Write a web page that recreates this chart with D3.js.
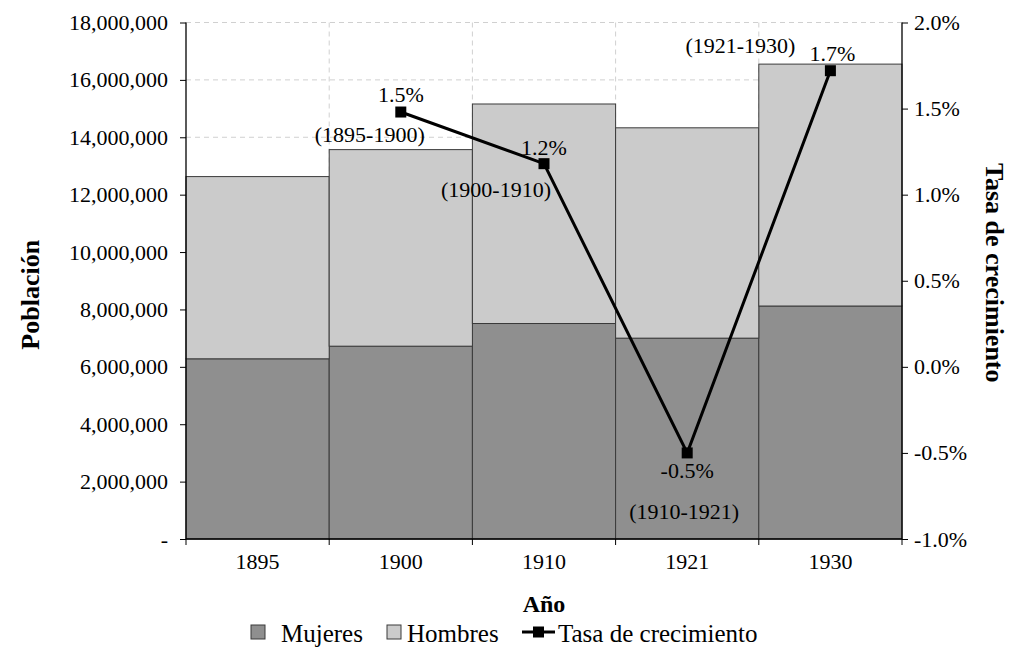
<!DOCTYPE html>
<html>
<head>
<meta charset="utf-8">
<script src="https://cdn.jsdelivr.net/npm/d3@7"></script>
<style>
  html, body { margin: 0; padding: 0; background: #fff; }
</style>
</head>
<body>
<svg id="chart" width="1011" height="649"></svg>
<script>
// Census years
const years = ["1895", "1900", "1910", "1921", "1930"];
// Population by sex
const mujeres = [6280000, 6720000, 7510000, 7000000, 8120000];
const hombres = [6350000, 6850000, 7650000, 7330000, 8430000];
// Intercensal growth rate (plotted at the end year of each period)
const tasaYears = ["1900", "1910", "1921", "1930"];
const tasa = [0.0148, 0.0118, -0.0050, 0.0172];
const periodos = ["(1895-1900)", "(1900-1910)", "(1910-1921)", "(1921-1930)"];
// Axis ticks
const leftTicks = [0, 2e6, 4e6, 6e6, 8e6, 10e6, 12e6, 14e6, 16e6, 18e6];
const rightTicks = [-0.01, -0.005, 0, 0.005, 0.01, 0.015, 0.02];

// Label placement around each growth-rate marker
const periodOffset = [[-31, 30], [-48, 33], [-3, 66], [-90, -18]];
const valueOffset = [[0, -10], [0, -9], [0, 25], [2, -10]];

const SERIF = "Liberation Serif";
const svg = d3.select("#chart");
const L = 186, R = 902, T = 22.5, B = 539;

const x = d3.scaleBand().domain(years).range([L, R]).padding(0);
const y = d3.scaleLinear().domain([0, 18e6]).range([B, T]);
const y2 = d3.scaleLinear().domain([-0.01, 0.02]).range([B, T]);

const pct = d => d3.format(".1f")(d * 100).replace("−", "-") + "%";

const grid = svg.append("g");
// Horizontal dashed gridlines
grid.selectAll("line.h").data(leftTicks.filter(d => d > 0)).join("line")
  .attr("x1", L).attr("x2", R)
  .attr("y1", d => y(d)).attr("y2", d => y(d))
  .attr("stroke", "#d0d0d0").attr("stroke-dasharray", "5,4").attr("stroke-width", 1);
// Vertical dashed gridlines at category boundaries
grid.selectAll("line.v").data(years.slice(1)).join("line")
  .attr("x1", d => x(d)).attr("x2", d => x(d))
  .attr("y1", T).attr("y2", B)
  .attr("stroke", "#d0d0d0").attr("stroke-dasharray", "5,4").attr("stroke-width", 1);

// Stacked bars
const stackData = years.map((yr, i) => ({ year: yr, Mujeres: mujeres[i], Hombres: hombres[i] }));
const series = d3.stack().keys(["Mujeres", "Hombres"])(stackData);
const fills = { Mujeres: "#8f8f8f", Hombres: "#cbcbcb" };

svg.append("g").selectAll("g").data(series).join("g")
  .attr("fill", d => fills[d.key])
  .selectAll("rect").data(d => d).join("rect")
  .attr("x", d => x(d.data.year))
  .attr("width", x.bandwidth())
  .attr("y", d => y(d[1]))
  .attr("height", d => y(d[0]) - y(d[1]))
  .attr("stroke", "#3a3a3a").attr("stroke-width", 1);

// Left axis
const axL = svg.append("g").attr("transform", `translate(${L},0)`)
  .call(d3.axisLeft(y).tickValues(leftTicks).tickSize(6).tickPadding(12)
    .tickFormat(d => d === 0 ? "-" : d3.format(",")(d)));
// Right axis
const axR = svg.append("g").attr("transform", `translate(${R},0)`)
  .call(d3.axisRight(y2).tickValues(rightTicks).tickSize(6).tickPadding(6)
    .tickFormat(pct));
// Bottom axis: ticks at category boundaries, labels at centers
const axB = svg.append("g").attr("transform", `translate(0,${B})`)
  .call(d3.axisBottom(x).tickSize(0).tickPadding(14));
axB.selectAll(".tick line").remove();
axB.append("g").selectAll("line").data(years.slice(1).concat(["end"])).join("line")
  .attr("x1", d => d === "end" ? R : x(d)).attr("x2", d => d === "end" ? R : x(d))
  .attr("y1", 0).attr("y2", 6).attr("stroke", "#000");
axB.append("line").attr("x1", L).attr("x2", L).attr("y1", 0).attr("y2", 6).attr("stroke", "#000");

[axL, axR, axB].forEach(a => {
  a.selectAll(".domain").attr("stroke", "#000").attr("stroke-width", 1.3);
  a.selectAll(".tick line").attr("stroke", "#000");
  a.selectAll("text").attr("font-size", 22).attr("fill", "#000");
});
axL.select(".domain").attr("d", `M0,${T}V${B}`);
axR.select(".domain").attr("d", `M0,${T}V${B}`);
axB.select(".domain").attr("d", `M${L},0H${R}`);

// Growth-rate line
const pts = tasaYears.map((yr, i) => [x(yr) + x.bandwidth() / 2, y2(tasa[i])]);
svg.append("path").datum(pts)
  .attr("d", d3.line())
  .attr("fill", "none").attr("stroke", "#000").attr("stroke-width", 3);
svg.append("g").selectAll("rect").data(pts).join("rect")
  .attr("x", d => d[0] - 5.5).attr("y", d => d[1] - 5.5)
  .attr("width", 11).attr("height", 11).attr("fill", "#000");

// Value and period labels
const lbl = svg.append("g").attr("font-size", 22).attr("text-anchor", "middle").attr("fill", "#000");
lbl.selectAll("text.val").data(pts).join("text")
  .attr("x", (d, i) => d[0] + valueOffset[i][0])
  .attr("y", (d, i) => d[1] + valueOffset[i][1])
  .text((d, i) => pct(tasa[i]));
lbl.selectAll("text.per").data(pts).join("text")
  .attr("x", (d, i) => d[0] + periodOffset[i][0])
  .attr("y", (d, i) => d[1] + periodOffset[i][1])
  .text((d, i) => periodos[i]);

// Axis titles
svg.append("text").attr("transform", `translate(39,${(T + B) / 2 + 14}) rotate(-90)`)
  .attr("text-anchor", "middle").attr("font-weight", "bold").attr("font-size", 26)
  .text("Población");
svg.append("text").attr("transform", `translate(986,${(T + B) / 2 - 8}) rotate(90)`)
  .attr("text-anchor", "middle").attr("font-weight", "bold").attr("font-size", 26)
  .text("Tasa de crecimiento");
svg.append("text").attr("x", (L + R) / 2).attr("y", 612)
  .attr("text-anchor", "middle").attr("font-weight", "bold").attr("font-size", 24)
  .text("Año");

// Legend
const lg = svg.append("g").attr("font-size", 25);
lg.append("rect").attr("x", 251).attr("y", 625).attr("width", 14).attr("height", 14)
  .attr("fill", fills.Mujeres).attr("stroke", "#3a3a3a");
lg.append("text").attr("x", 281).attr("y", 642).text("Mujeres");
lg.append("rect").attr("x", 387).attr("y", 625).attr("width", 14).attr("height", 14)
  .attr("fill", fills.Hombres).attr("stroke", "#3a3a3a");
lg.append("text").attr("x", 407).attr("y", 642).text("Hombres");
lg.append("line").attr("x1", 522).attr("x2", 555).attr("y1", 632).attr("y2", 632)
  .attr("stroke", "#000").attr("stroke-width", 3);
lg.append("rect").attr("x", 533).attr("y", 626.5).attr("width", 11).attr("height", 11).attr("fill", "#000");
lg.append("text").attr("x", 558).attr("y", 642).text("Tasa de crecimiento");

// Serif face for every label
svg.selectAll("text").style("font-family", SERIF);
</script>
</body>
</html>
